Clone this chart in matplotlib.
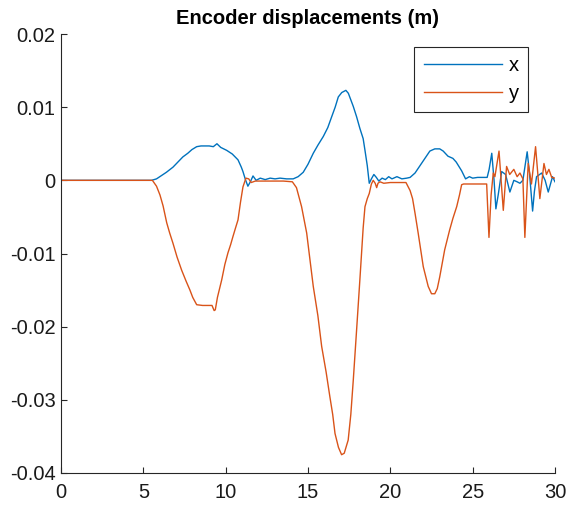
import matplotlib
matplotlib.use("Agg")
import matplotlib.pyplot as plt
from matplotlib.ticker import FixedLocator, FixedFormatter

# Encoder x displacement (time s, displacement m)
t_x = [0, 5.5, 5.8, 6.0, 6.4, 6.8, 7.1, 7.4, 7.7, 7.95, 8.24, 8.5, 9.0, 9.25, 9.47,
       9.7, 10.06, 10.4, 10.75, 10.95, 11.05, 11.2, 11.35, 11.5, 11.66, 11.85, 12.1,
       12.4, 12.7, 13.0, 13.3, 13.7, 14.1, 14.4, 14.71, 15.0, 15.32, 15.6, 15.93, 16.2,
       16.44, 16.65, 16.84, 17.05, 17.3, 17.45, 17.6, 17.75, 17.95, 18.15, 18.35, 18.46,
       18.6, 18.72, 18.85, 19.0, 19.15, 19.3, 19.5, 19.7, 19.9, 20.1, 20.4, 20.7, 21.0,
       21.2, 21.5, 21.8, 22.1, 22.4, 22.7, 23.0, 23.21, 23.5, 23.8, 24.0, 24.33, 24.57,
       24.8, 25.0, 25.3, 25.6, 25.88, 26.0, 26.16, 26.3, 26.41, 26.55, 26.76, 27.0,
       27.26, 27.5, 27.7, 27.87, 28.05, 28.31, 28.45, 28.64, 28.75, 28.88, 29.19, 29.4,
       29.59, 29.85, 30.0]
disp_x = [0, 0, 0.0002, 0.0005, 0.0011, 0.0018, 0.0025, 0.0032, 0.0037, 0.0042, 0.0046,
          0.0047, 0.0047, 0.0046, 0.0050, 0.0045, 0.0041, 0.0036, 0.0028, 0.0018, 0.0012,
          0.0001, -0.0008, -0.0002, 0.0006, 0.0000, 0.0003, 0.0001, 0.0003, 0.0002,
          0.0003, 0.0002, 0.0002, 0.0005, 0.0011, 0.0022, 0.0037, 0.0048, 0.0060, 0.0072,
          0.0087, 0.0100, 0.0114, 0.0120, 0.0123, 0.0119, 0.0110, 0.0101, 0.0087, 0.0071,
          0.0057, 0.0041, 0.0020, -0.0004, 0.0002, 0.0008, 0.0004, -0.0001, 0.0003,
          0.0001, 0.0005, 0.0002, 0.0005, 0.0002, 0.0003, 0.0004, 0.0010, 0.0020, 0.0030,
          0.0040, 0.0043, 0.0043, 0.0040, 0.0033, 0.0030, 0.0025, 0.0013, 0.0002, 0.0005,
          0.0003, 0.0004, 0.0004, 0.0004, 0.0015, 0.0037, 0.0000, -0.0039, -0.0020,
          0.0012, 0.0008, -0.0016, 0.0000, -0.0002, -0.0004, 0.0000, 0.0039, 0.0010,
          -0.0042, -0.0015, 0.0005, 0.0010, 0.0000, -0.0016, 0.0005, -0.0002]

# Encoder y displacement (time s, displacement m)
t_y = [0, 5.55, 5.8, 6.01, 6.2, 6.42, 6.6, 6.8, 7.05, 7.33, 7.6, 7.83, 8.0, 8.24, 8.6,
       9.17, 9.3, 9.37, 9.5, 9.76, 9.95, 10.14, 10.3, 10.44, 10.6, 10.75, 10.9, 11.05,
       11.23, 11.4, 11.55, 11.8, 12.5, 13.5, 14.05, 14.3, 14.61, 14.92, 15.1, 15.32,
       15.6, 15.83, 16.1, 16.33, 16.5, 16.64, 16.85, 17.04, 17.2, 17.44, 17.6, 17.75,
       17.95, 18.15, 18.35, 18.46, 18.6, 18.72, 18.85, 18.96, 19.08, 19.17, 19.25,
       19.37, 19.6, 20.0, 20.4, 20.95, 21.2, 21.35, 21.5, 21.69, 22.0, 22.3, 22.5, 22.7,
       22.85, 23.0, 23.3, 23.6, 23.8, 24.03, 24.2, 24.33, 24.45, 25.85, 25.99, 26.12,
       26.25, 26.35, 26.6, 26.86, 27.06, 27.25, 27.5, 27.7, 27.87, 28.05, 28.17, 28.37,
       28.57, 28.82, 29.08, 29.33, 29.48, 29.63, 29.8, 30.0]
disp_y = [0, 0, -0.0008, -0.0020, -0.0035, -0.0058, -0.0072, -0.0086, -0.0105, -0.0123,
          -0.0138, -0.0150, -0.0160, -0.0170, -0.0171, -0.0171, -0.0178, -0.0177,
          -0.0160, -0.0136, -0.0115, -0.0099, -0.0088, -0.0077, -0.0065, -0.0054,
          -0.0030, -0.0009, 0.0003, 0.0002, -0.0003, -0.0001, -0.0001, -0.0001, -0.0002,
          -0.0010, -0.0036, -0.0072, -0.0105, -0.0145, -0.0185, -0.0227, -0.0262,
          -0.0296, -0.0320, -0.0346, -0.0365, -0.0375, -0.0373, -0.0355, -0.0320,
          -0.0273, -0.0205, -0.0136, -0.0065, -0.0036, -0.0025, -0.0018, -0.0005, 0.0000,
          -0.0004, -0.0010, -0.0004, -0.0002, -0.0004, -0.0003, -0.0003, -0.0003,
          -0.0014, -0.0025, -0.0045, -0.0072, -0.0118, -0.0145, -0.0155, -0.0155,
          -0.0148, -0.0132, -0.0095, -0.0068, -0.0052, -0.0036, -0.0020, -0.0006,
          -0.0005, -0.0005, -0.0078, -0.0020, 0.0010, 0.0005, 0.0040, -0.0041, 0.0019,
          0.0008, 0.0015, 0.0005, 0.0010, 0.0002, -0.0078, 0.0023, -0.0005, 0.0046,
          -0.0025, 0.0023, 0.0008, 0.0015, 0.0004, 0.0003]

x_ticks = [0, 5, 10, 15, 20, 25, 30]
y_ticks = [0.02, 0.01, 0, -0.01, -0.02, -0.03, -0.04]
y_tick_labels = ["0.02", "0.01", "0", "-0.01", "-0.02", "-0.03", "-0.04"]
series_names = ["x", "y"]
title_text = "Encoder displacements (m)"

plt.rcParams["font.family"] = ["Liberation Sans", "DejaVu Sans"]

fig = plt.figure(figsize=(5.69, 5.08), dpi=100)
ax = fig.add_axes([61 / 569, 35 / 508, 494 / 569, 439 / 508])

ax.plot(t_x, disp_x, color="#0072BD", linewidth=1.0, label=series_names[0])
ax.plot(t_y, disp_y, color="#D95319", linewidth=1.0, label=series_names[1])

ax.set_xlim(0, 30)
ax.set_ylim(-0.04, 0.02)
ax.xaxis.set_major_locator(FixedLocator(x_ticks))
ax.yaxis.set_major_locator(FixedLocator(y_ticks))
ax.yaxis.set_major_formatter(FixedFormatter(y_tick_labels))

axis_grey = "#262626"
for side in ("top", "right"):
    ax.spines[side].set_visible(False)
for side in ("left", "bottom"):
    ax.spines[side].set_color(axis_grey)
    ax.spines[side].set_linewidth(0.8)
ax.tick_params(direction="in", length=4, width=0.8, colors=axis_grey,
               labelsize=14.5, labelcolor="#1a1a1a")
ax.tick_params(axis="x", pad=7.5)
ax.tick_params(axis="y", pad=4)

ax.set_title(title_text, fontsize=14.5, fontweight="bold", pad=7)

leg = ax.legend(loc="upper right", bbox_to_anchor=(0.946, 0.971), fontsize=14.5,
                handlelength=3.9, handletextpad=0.35, borderpad=0.45,
                labelspacing=0.45, fancybox=False, framealpha=1, borderaxespad=0)
leg.get_frame().set_edgecolor(axis_grey)
leg.get_frame().set_linewidth(0.8)

fig.savefig("out.png", dpi=100)
